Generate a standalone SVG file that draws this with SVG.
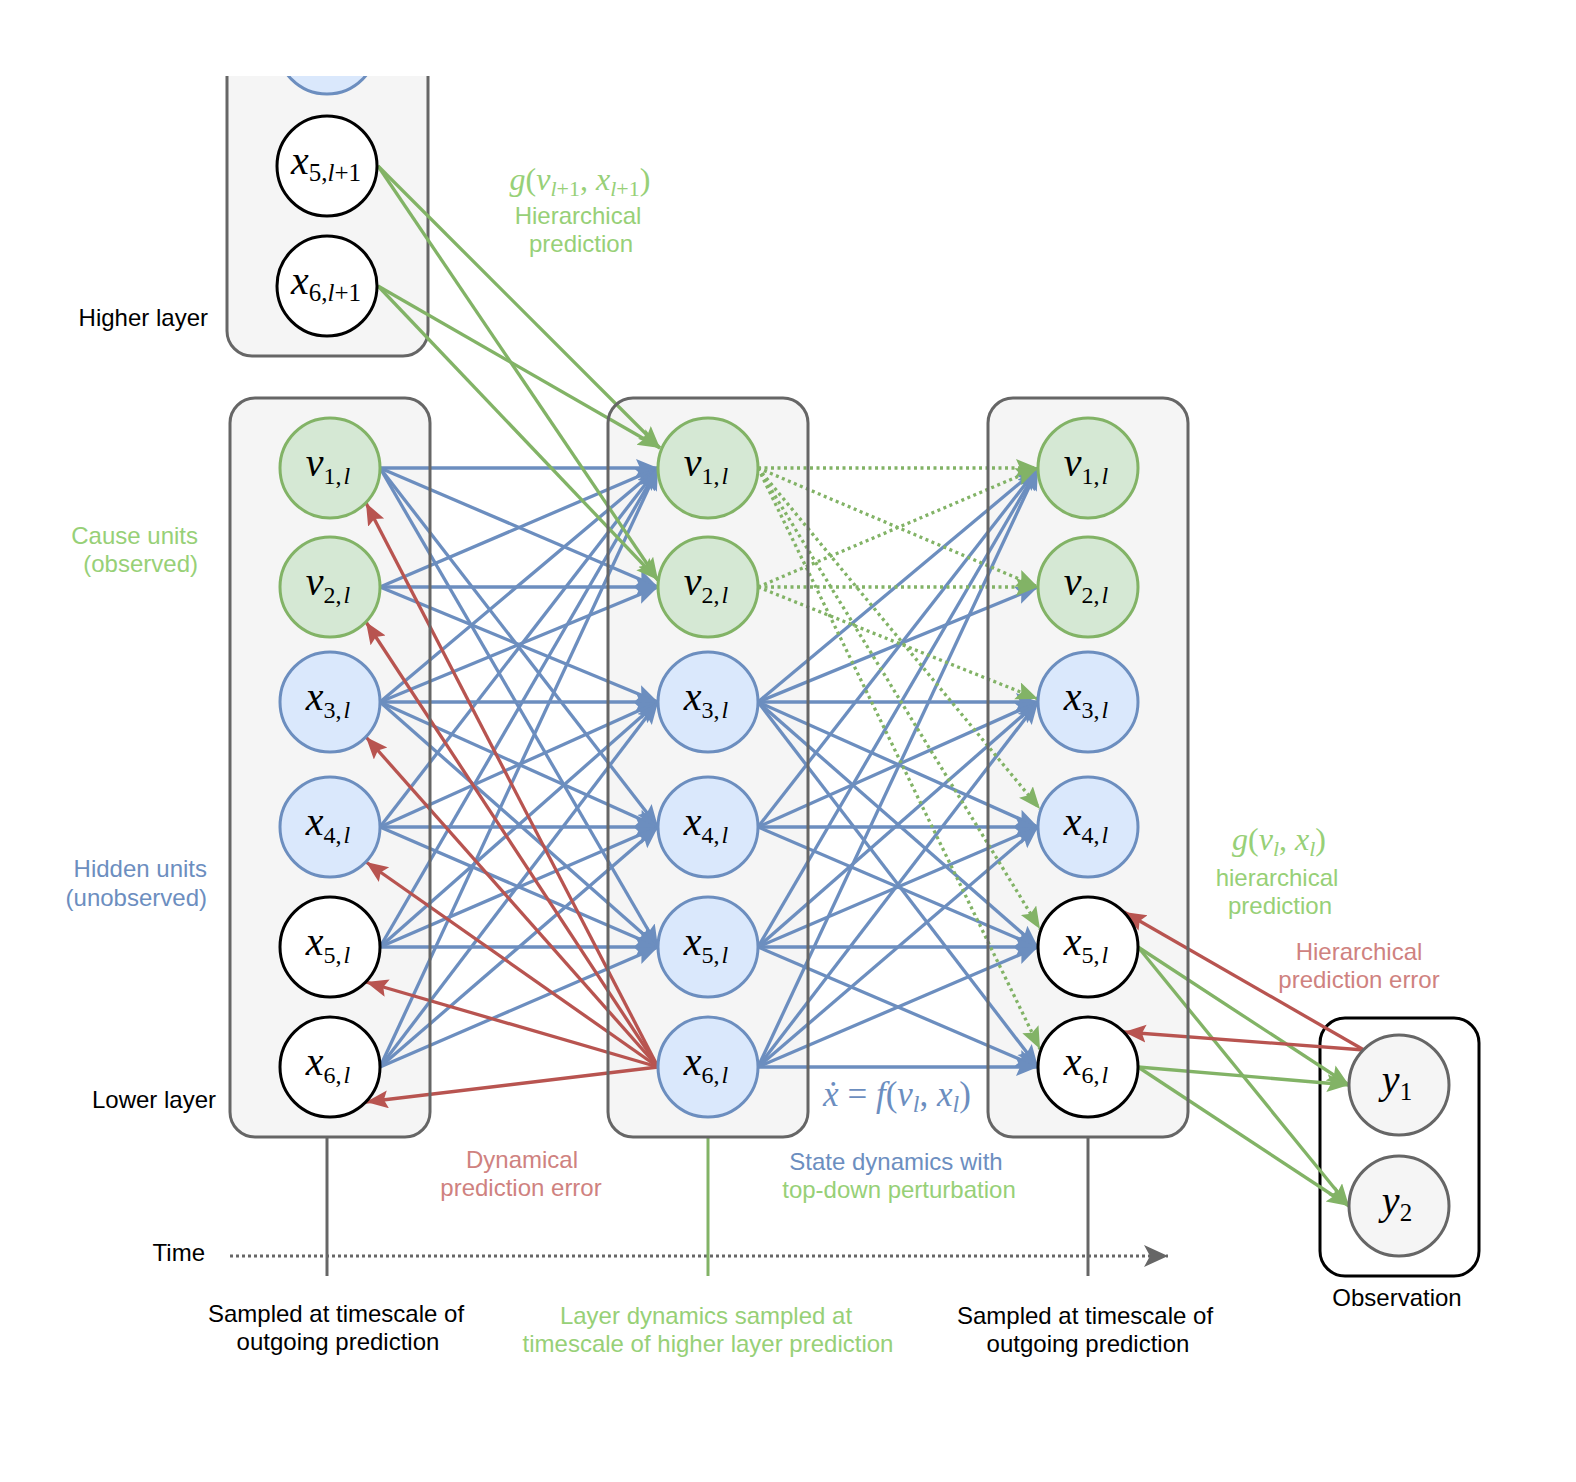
<svg xmlns="http://www.w3.org/2000/svg" width="1576" height="1482" viewBox="0 0 1576 1482">
<defs>
<style>
.box{fill:#f5f5f5;stroke:none}
.boxs{fill:none;stroke:#666666;stroke-width:3}
.cg{fill:#d5e8d4;stroke:#82b366;stroke-width:3}
.cb{fill:#dae8fc;stroke:#6c8ebf;stroke-width:3}
.cw{fill:#ffffff;stroke:#000000;stroke-width:3}
.co{fill:#f5f5f5;stroke:#666666;stroke-width:3}
.eb{fill:none;stroke:#6c8ebf;stroke-width:3.3;marker-end:url(#ab)}
.eg{fill:none;stroke:#82b366;stroke-width:3.3;marker-end:url(#ag)}
.ed{fill:none;stroke:#82b366;stroke-width:3.3;stroke-dasharray:3 3.5;marker-end:url(#ag)}
.er{fill:none;stroke:#b85450;stroke-width:3.3;marker-end:url(#ar)}
.t{font-family:"Liberation Sans",Arial,Helvetica,sans-serif;font-size:24px;fill:#000}
.tg{fill:#97d077}
.tb{fill:#6c8ebf}
.tr{fill:#cf827f}
.m{font-family:"Liberation Serif","DejaVu Serif",serif;font-size:40px;fill:#000}
.i{font-style:italic}
</style>
<marker id="ab" markerUnits="userSpaceOnUse" markerWidth="24" markerHeight="20" refX="22" refY="9" orient="auto"><path d="M0,0 L22,9 L0,18 L4,9 z" fill="#6c8ebf"/></marker>
<marker id="ag" markerUnits="userSpaceOnUse" markerWidth="24" markerHeight="20" refX="22" refY="9" orient="auto"><path d="M0,0 L22,9 L0,18 L4,9 z" fill="#82b366"/></marker>
<marker id="ar" markerUnits="userSpaceOnUse" markerWidth="24" markerHeight="20" refX="22" refY="9" orient="auto"><path d="M0,0 L22,9 L0,18 L4,9 z" fill="#b85450"/></marker>
<marker id="at" markerUnits="userSpaceOnUse" markerWidth="26" markerHeight="22" refX="24" refY="11" orient="auto"><path d="M0,0 L24,11 L0,22 L6,11 z" fill="#666666"/></marker>
<clipPath id="cp"><rect x="0" y="76" width="700" height="400"/></clipPath>
</defs>

<g id="higher-layer-box" clip-path="url(#cp)">
<rect x="227" y="-60" width="201" height="416" rx="25" fill="#f5f5f5" stroke="#666666" stroke-width="3"/>
</g>
<g id="lower-box-left"><rect class="box" x="230" y="398" width="200" height="739" rx="25"/></g>
<g id="lower-box-middle"><rect class="box" x="608" y="398" width="200" height="739" rx="25"/></g>
<g id="lower-box-right"><rect class="box" x="988" y="398" width="200" height="739" rx="25"/></g>
<g id="observation-box"><rect x="1320" y="1018" width="159" height="258" rx="25" fill="#ffffff" stroke="#000000" stroke-width="3"/></g>

<g id="timeline">
<path d="M230,1256 L1168,1256" fill="none" stroke="#666666" stroke-width="3" stroke-dasharray="3 3" marker-end="url(#at)"/>
<path d="M327,1138 L327,1276" stroke="#666666" stroke-width="3"/>
<path d="M708,1138 L708,1276" stroke="#82b366" stroke-width="3"/>
<path d="M1088,1138 L1088,1276" stroke="#666666" stroke-width="3"/>
</g>

<g id="connectors">
<path class="eb" d="M380,468 L658,468"/>
<path class="eb" d="M380,468 L658,587"/>
<path class="eb" d="M380,468 L658,827"/>
<path class="eb" d="M380,468 L658,947"/>
<path class="eb" d="M380,587 L658,468"/>
<path class="eb" d="M380,587 L658,587"/>
<path class="eb" d="M380,587 L658,702"/>
<path class="eb" d="M380,702 L658,468"/>
<path class="eb" d="M380,702 L658,587"/>
<path class="eb" d="M380,702 L658,702"/>
<path class="eb" d="M380,702 L658,827"/>
<path class="eb" d="M380,702 L658,947"/>
<path class="eb" d="M380,827 L658,468"/>
<path class="eb" d="M380,827 L658,702"/>
<path class="eb" d="M380,827 L658,827"/>
<path class="eb" d="M380,827 L658,947"/>
<path class="eb" d="M380,947 L658,468"/>
<path class="eb" d="M380,947 L658,702"/>
<path class="eb" d="M380,947 L658,827"/>
<path class="eb" d="M380,947 L658,947"/>
<path class="eb" d="M380,1067 L658,468"/>
<path class="eb" d="M380,1067 L658,702"/>
<path class="eb" d="M380,1067 L658,827"/>
<path class="eb" d="M380,1067 L658,947"/>
<path class="eb" d="M758,702 L1038,468"/>
<path class="eb" d="M758,702 L1038,587"/>
<path class="eb" d="M758,702 L1038,702"/>
<path class="eb" d="M758,702 L1038,827"/>
<path class="eb" d="M758,702 L1038,947"/>
<path class="eb" d="M758,702 L1038,1067"/>
<path class="eb" d="M758,827 L1038,468"/>
<path class="eb" d="M758,827 L1038,702"/>
<path class="eb" d="M758,827 L1038,827"/>
<path class="eb" d="M758,827 L1038,947"/>
<path class="eb" d="M758,947 L1038,468"/>
<path class="eb" d="M758,947 L1038,702"/>
<path class="eb" d="M758,947 L1038,827"/>
<path class="eb" d="M758,947 L1038,947"/>
<path class="eb" d="M758,947 L1038,1067"/>
<path class="eb" d="M758,1067 L1038,468"/>
<path class="eb" d="M758,1067 L1038,702"/>
<path class="eb" d="M758,1067 L1038,827"/>
<path class="eb" d="M758,1067 L1038,947"/>
<path class="eb" d="M758,1067 L1038,1067"/>
<path class="ed" d="M758,468 L1038,468"/>
<path class="ed" d="M758,468 L1038,587"/>
<path class="ed" d="M758,468 L1040,809"/>
<path class="ed" d="M758,468 L1040,929"/>
<path class="ed" d="M758,468 L1040,1049"/>
<path class="ed" d="M758,587 L1038,468"/>
<path class="ed" d="M758,587 L1038,587"/>
<path class="ed" d="M758,587 L1038,699"/>
<path class="eg" d="M378,166 L660,448"/>
<path class="eg" d="M378,166 L658,580"/>
<path class="eg" d="M378,286 L660,448"/>
<path class="eg" d="M378,286 L658,580"/>
<path class="er" d="M658,1067 L366,503"/>
<path class="er" d="M658,1067 L366,622"/>
<path class="er" d="M658,1067 L366,737"/>
<path class="er" d="M658,1067 L366,862"/>
<path class="er" d="M658,1067 L366,982"/>
<path class="er" d="M658,1067 L366,1102"/>
<path class="eg" d="M1138,947 L1349,1085"/>
<path class="eg" d="M1138,947 L1349,1206"/>
<path class="eg" d="M1138,1067 L1349,1085"/>
<path class="eg" d="M1138,1067 L1349,1206"/>
<path class="er" d="M1364,1050 L1124,912"/>
<path class="er" d="M1364,1050 L1124,1032"/>
</g>

<g id="box-outlines">
<rect class="boxs" x="230" y="398" width="200" height="739" rx="25"/>
<rect class="boxs" x="608" y="398" width="200" height="739" rx="25"/>
<rect class="boxs" x="988" y="398" width="200" height="739" rx="25"/>
</g>

<g id="node-hl-top" clip-path="url(#cp)"><circle class="cb" cx="327" cy="44" r="50"/></g>
<g id="node-x5-l1"><circle class="cw" cx="327" cy="166" r="50"/>
<text class="m" x="326" y="174" text-anchor="middle"><tspan class="i">x</tspan><tspan font-size="25" dy="7">5,</tspan><tspan font-size="25" class="i">l</tspan><tspan font-size="25">+1</tspan></text></g>
<g id="node-x6-l1"><circle class="cw" cx="327" cy="286" r="50"/>
<text class="m" x="326" y="294" text-anchor="middle"><tspan class="i">x</tspan><tspan font-size="25" dy="7">6,</tspan><tspan font-size="25" class="i">l</tspan><tspan font-size="25">+1</tspan></text></g>

<g id="node-L-v1"><circle class="cg" cx="330" cy="468" r="50"/><text class="m" x="328" y="476" text-anchor="middle"><tspan class="i">v</tspan><tspan font-size="24" dy="8">1,</tspan><tspan font-size="24" class="i" dx="2">l</tspan></text></g>
<g id="node-L-v2"><circle class="cg" cx="330" cy="587" r="50"/><text class="m" x="328" y="595" text-anchor="middle"><tspan class="i">v</tspan><tspan font-size="24" dy="8">2,</tspan><tspan font-size="24" class="i" dx="2">l</tspan></text></g>
<g id="node-L-x3"><circle class="cb" cx="330" cy="702" r="50"/><text class="m" x="328" y="710" text-anchor="middle"><tspan class="i">x</tspan><tspan font-size="24" dy="8">3,</tspan><tspan font-size="24" class="i" dx="2">l</tspan></text></g>
<g id="node-L-x4"><circle class="cb" cx="330" cy="827" r="50"/><text class="m" x="328" y="835" text-anchor="middle"><tspan class="i">x</tspan><tspan font-size="24" dy="8">4,</tspan><tspan font-size="24" class="i" dx="2">l</tspan></text></g>
<g id="node-L-x5"><circle class="cw" cx="330" cy="947" r="50"/><text class="m" x="328" y="955" text-anchor="middle"><tspan class="i">x</tspan><tspan font-size="24" dy="8">5,</tspan><tspan font-size="24" class="i" dx="2">l</tspan></text></g>
<g id="node-L-x6"><circle class="cw" cx="330" cy="1067" r="50"/><text class="m" x="328" y="1075" text-anchor="middle"><tspan class="i">x</tspan><tspan font-size="24" dy="8">6,</tspan><tspan font-size="24" class="i" dx="2">l</tspan></text></g>

<g id="node-M-v1"><circle class="cg" cx="708" cy="468" r="50"/><text class="m" x="706" y="476" text-anchor="middle"><tspan class="i">v</tspan><tspan font-size="24" dy="8">1,</tspan><tspan font-size="24" class="i" dx="2">l</tspan></text></g>
<g id="node-M-v2"><circle class="cg" cx="708" cy="587" r="50"/><text class="m" x="706" y="595" text-anchor="middle"><tspan class="i">v</tspan><tspan font-size="24" dy="8">2,</tspan><tspan font-size="24" class="i" dx="2">l</tspan></text></g>
<g id="node-M-x3"><circle class="cb" cx="708" cy="702" r="50"/><text class="m" x="706" y="710" text-anchor="middle"><tspan class="i">x</tspan><tspan font-size="24" dy="8">3,</tspan><tspan font-size="24" class="i" dx="2">l</tspan></text></g>
<g id="node-M-x4"><circle class="cb" cx="708" cy="827" r="50"/><text class="m" x="706" y="835" text-anchor="middle"><tspan class="i">x</tspan><tspan font-size="24" dy="8">4,</tspan><tspan font-size="24" class="i" dx="2">l</tspan></text></g>
<g id="node-M-x5"><circle class="cb" cx="708" cy="947" r="50"/><text class="m" x="706" y="955" text-anchor="middle"><tspan class="i">x</tspan><tspan font-size="24" dy="8">5,</tspan><tspan font-size="24" class="i" dx="2">l</tspan></text></g>
<g id="node-M-x6"><circle class="cb" cx="708" cy="1067" r="50"/><text class="m" x="706" y="1075" text-anchor="middle"><tspan class="i">x</tspan><tspan font-size="24" dy="8">6,</tspan><tspan font-size="24" class="i" dx="2">l</tspan></text></g>

<g id="node-R-v1"><circle class="cg" cx="1088" cy="468" r="50"/><text class="m" x="1086" y="476" text-anchor="middle"><tspan class="i">v</tspan><tspan font-size="24" dy="8">1,</tspan><tspan font-size="24" class="i" dx="2">l</tspan></text></g>
<g id="node-R-v2"><circle class="cg" cx="1088" cy="587" r="50"/><text class="m" x="1086" y="595" text-anchor="middle"><tspan class="i">v</tspan><tspan font-size="24" dy="8">2,</tspan><tspan font-size="24" class="i" dx="2">l</tspan></text></g>
<g id="node-R-x3"><circle class="cb" cx="1088" cy="702" r="50"/><text class="m" x="1086" y="710" text-anchor="middle"><tspan class="i">x</tspan><tspan font-size="24" dy="8">3,</tspan><tspan font-size="24" class="i" dx="2">l</tspan></text></g>
<g id="node-R-x4"><circle class="cb" cx="1088" cy="827" r="50"/><text class="m" x="1086" y="835" text-anchor="middle"><tspan class="i">x</tspan><tspan font-size="24" dy="8">4,</tspan><tspan font-size="24" class="i" dx="2">l</tspan></text></g>
<g id="node-R-x5"><circle class="cw" cx="1088" cy="947" r="50"/><text class="m" x="1086" y="955" text-anchor="middle"><tspan class="i">x</tspan><tspan font-size="24" dy="8">5,</tspan><tspan font-size="24" class="i" dx="2">l</tspan></text></g>
<g id="node-R-x6"><circle class="cw" cx="1088" cy="1067" r="50"/><text class="m" x="1086" y="1075" text-anchor="middle"><tspan class="i">x</tspan><tspan font-size="24" dy="8">6,</tspan><tspan font-size="24" class="i" dx="2">l</tspan></text></g>

<g id="node-y1"><circle class="co" cx="1399" cy="1085" r="50"/><text class="m" x="1397" y="1093" text-anchor="middle"><tspan class="i">y</tspan><tspan font-size="25" dy="7">1</tspan></text></g>
<g id="node-y2"><circle class="co" cx="1399" cy="1206" r="50"/><text class="m" x="1397" y="1214" text-anchor="middle"><tspan class="i">y</tspan><tspan font-size="25" dy="7">2</tspan></text></g>

<g id="labels">
<text class="t" x="208" y="326" text-anchor="end">Higher layer</text>
<text class="t tg" x="198" y="544" text-anchor="end">Cause units</text>
<text class="t tg" x="198" y="572" text-anchor="end">(observed)</text>
<text class="t tb" x="207" y="877" text-anchor="end">Hidden units</text>
<text class="t tb" x="207" y="906" text-anchor="end">(unobserved)</text>
<text class="t" x="216" y="1108" text-anchor="end">Lower layer</text>
<text class="t" x="205" y="1261" text-anchor="end">Time</text>
<text class="t" x="336" y="1322" text-anchor="middle">Sampled at timescale of</text>
<text class="t" x="338" y="1350" text-anchor="middle">outgoing prediction</text>
<text class="t tg" x="706" y="1324" text-anchor="middle">Layer dynamics sampled at</text>
<text class="t tg" x="708" y="1352" text-anchor="middle">timescale of higher layer prediction</text>
<text class="t" x="1085" y="1324" text-anchor="middle">Sampled at timescale of</text>
<text class="t" x="1088" y="1352" text-anchor="middle">outgoing prediction</text>
<text class="t" x="1397" y="1306" text-anchor="middle">Observation</text>
<text class="t tr" x="522" y="1168" text-anchor="middle">Dynamical</text>
<text class="t tr" x="521" y="1196" text-anchor="middle">prediction error</text>
<text class="t tb" x="896" y="1170" text-anchor="middle">State dynamics with</text>
<text class="t tg" x="899" y="1198" text-anchor="middle">top-down perturbation</text>
<text class="t tg" x="578" y="224" text-anchor="middle">Hierarchical</text>
<text class="t tg" x="581" y="252" text-anchor="middle">prediction</text>
<text class="t tg" x="1277" y="886" text-anchor="middle">hierarchical</text>
<text class="t tg" x="1280" y="914" text-anchor="middle">prediction</text>
<text class="t tr" x="1359" y="960" text-anchor="middle">Hierarchical</text>
<text class="t tr" x="1359" y="988" text-anchor="middle">prediction error</text>
<text class="m" style="font-size:32px;fill:#97d077" x="580" y="190" text-anchor="middle"><tspan class="i">g</tspan>(<tspan class="i">v</tspan><tspan font-size="22" dy="6"><tspan class="i">l</tspan>+1</tspan><tspan dy="-6">, </tspan><tspan class="i">x</tspan><tspan font-size="22" dy="6"><tspan class="i">l</tspan>+1</tspan><tspan dy="-6">)</tspan></text>
<text class="m" style="font-size:32px;fill:#97d077" x="1279" y="850" text-anchor="middle"><tspan class="i">g</tspan>(<tspan class="i">v</tspan><tspan font-size="22" dy="6" class="i">l</tspan><tspan dy="-6">, </tspan><tspan class="i">x</tspan><tspan font-size="22" dy="6" class="i">l</tspan><tspan dy="-6">)</tspan></text>
<text class="m" style="font-size:35px;fill:#6c8ebf" x="897" y="1106" text-anchor="middle"><tspan class="i">ẋ</tspan> = <tspan class="i">f</tspan>(<tspan class="i">v</tspan><tspan font-size="24" dy="6" class="i">l</tspan><tspan dy="-6">, </tspan><tspan class="i">x</tspan><tspan font-size="24" dy="6" class="i">l</tspan><tspan dy="-6">)</tspan></text>
</g>
</svg>
